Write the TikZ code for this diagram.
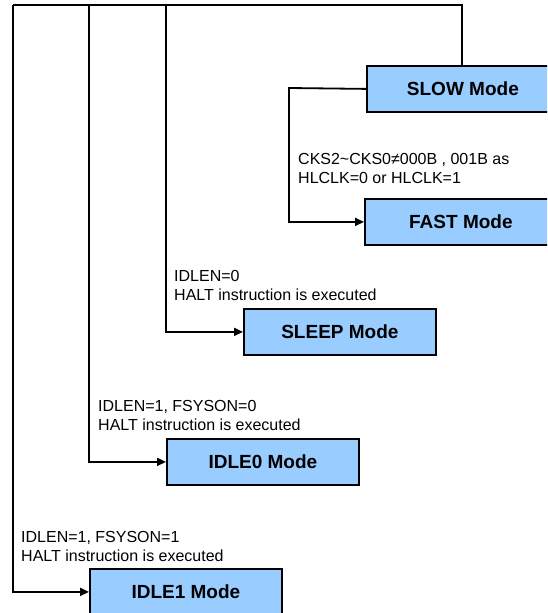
\documentclass[tikz,border=0pt]{standalone}
\usepackage{fontspec}
\setmainfont{Liberation Sans}
\usetikzlibrary{arrows.meta}
\definecolor{boxblue}{HTML}{99CCFF}
\tikzset{
  modebox/.style={draw=black, fill=boxblue, line width=1.8pt, minimum width=192pt, minimum height=46pt, inner sep=0pt, anchor=north west, font=\fontsize{19}{22}\selectfont\bfseries},
  cond/.style={anchor=north west, inner sep=0pt, align=left, font=\fontsize{16}{18.5}\selectfont},
  link/.style={line width=1.8pt, -{Triangle[length=9pt,width=8pt]}},
  plain/.style={line width=1.8pt}
}
\begin{document}
\begin{tikzpicture}[x=1pt,y=-1pt]
\useasboundingbox (0,0) rectangle (547,613);
\clip (0,0) rectangle (547,613);
% boxes
\node[modebox] (slow) at (366,65) {SLOW Mode};
\node[modebox] (fast) at (364,198) {FAST Mode};
\node[modebox] (sleep) at (243,308) {SLEEP Mode};
\node[modebox] (idle0) at (166,438) {IDLE0 Mode};
\node[modebox] (idle1) at (89,568) {IDLE1 Mode};
% junction points
\coordinate (tr) at (462,5);
\coordinate (tl) at (13,5);
\coordinate (j0) at (89,5);
\coordinate (js) at (166,5);
\coordinate (sl) at (289,88);
\coordinate (st) at (462,65);
% connectors
\draw[plain] (st) -- (tr) -- (tl);
\draw[link] (tl) |- (idle1.west);
\draw[link] (j0) |- (idle0.west);
\draw[link] (js) |- (sleep.west);
\draw[link] (slow.west) -- (sl) |- (fast.west);
% labels
\node[cond] (lf) at (298,153.5) {CKS2\textasciitilde CKS0≠000B , 001B as\\HLCLK=0 or HLCLK=1};
\node[cond] (ls) at (174,270.5) {IDLEN=0\\HALT instruction is executed};
\node[cond] (l0) at (98,400.5) {IDLEN=1, FSYSON=0\\HALT instruction is executed};
\node[cond] (l1) at (21,531.5) {IDLEN=1, FSYSON=1\\HALT instruction is executed};
\end{tikzpicture}
\end{document}
